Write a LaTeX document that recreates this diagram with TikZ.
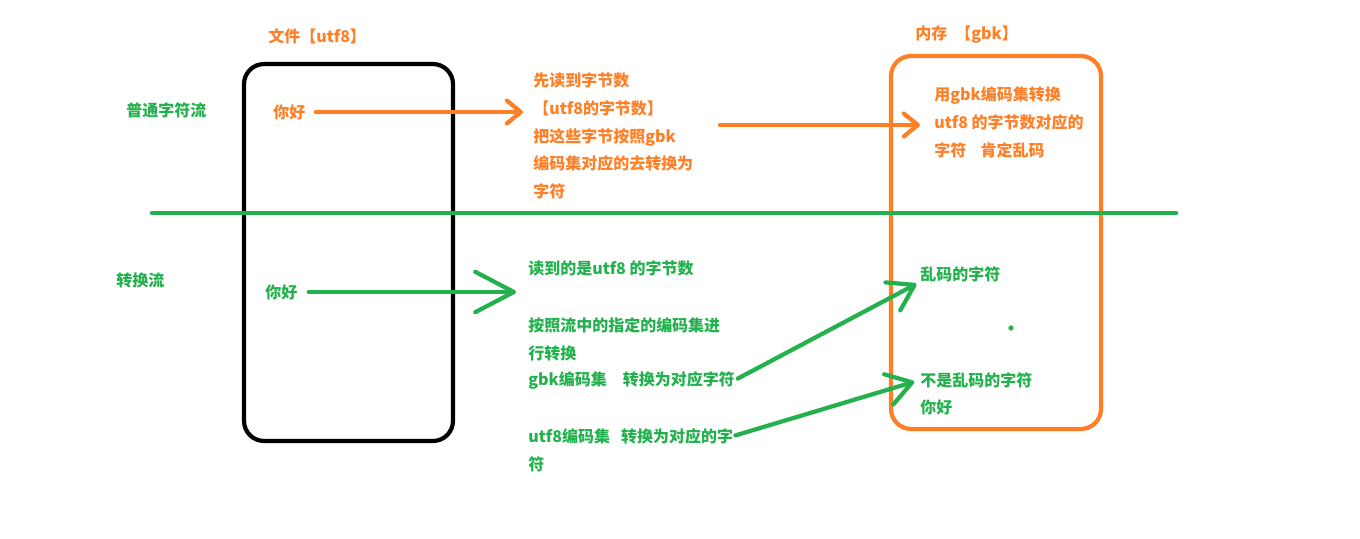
\documentclass[tikz,border=0pt]{standalone}
\usepackage{fontspec}
\setmainfont{Noto Sans CJK SC}
\usetikzlibrary{arrows.meta}
\definecolor{porange}{RGB}{255,127,39}
\definecolor{pgreen}{RGB}{34,177,76}

\begin{document}
\begin{tikzpicture}[
  x=0.02cm, y=-0.02cm,
  font=\fontsize{9.1}{15.9}\selectfont\bfseries,
  line cap=round,
  olbl/.style={text=porange, anchor=west, inner sep=0pt},
  glbl/.style={text=pgreen, anchor=west, inner sep=0pt},
  blk/.style={align=left, anchor=north west, inner sep=0pt},
  frame/.style={line width=2.4pt, rounded corners=0.4cm},
  oarr/.style={draw=porange, line width=2.4pt, -{Straight Barb[length=8pt,width=13pt,round]}},
  garr/.style={draw=pgreen, line width=2.4pt, -{Straight Barb[length=14pt,width=18pt,round]}},
  bigarr/.style={draw=pgreen, line width=2.4pt, -{Straight Barb[length=22pt,width=23pt,round]}},
]
  \useasboundingbox (0,0) rectangle (1360,538);

  % ---------- boxes ----------
  \node[frame, draw=black, minimum width=4.18cm, minimum height=7.54cm] (filebox) at (348.5,252.5) {};
  \node[frame, draw=porange, minimum width=4.2cm, minimum height=7.46cm] (membox) at (996,242.5) {};
  \node[olbl] (filettl) at (268,36) {文件【utf8】};
  \node[olbl] (memttl) at (915,35) {内存\hspace{0.5em}【gbk】};

  % divider
  \draw[pgreen, line width=2.4pt] (152,213) -- (1176,213);

  % ---------- top: ordinary char stream ----------
  \node[glbl] (ordlbl) at (126,110) {普通字符流};
  \node[olbl] (hiA) at (273,112) {你好};
  \node[olbl, blk] (readA) at (533,72)
    {先读到字节数\\【utf8的字节数】\\把这些字节按照gbk\\编码集对应的去转换为\\字符};
  \node[olbl, blk] (memtxt) at (934,86)
    {用gbk编码集转换\\utf8 的字节数对应的\\字符\hspace{0.9em}肯定乱码};
  \coordinate (ostart) at (720,125);

  \draw[oarr, shorten <=10*0.02cm, shorten >=10*0.02cm] (hiA.east) -- (hiA.east -| readA.west);
  \draw[oarr, shorten >=14*0.02cm] (ostart) -- (ostart -| memtxt.west);

  % ---------- bottom: converting stream ----------
  \node[glbl] (convlbl) at (116,280) {转换流};
  \node[glbl] (hiB) at (265,292) {你好};
  \node[glbl] (readB) at (528,268) {读到的是utf8 的字节数};
  \node[glbl, blk] (rule) at (528,317) {按照流中的指定的编码集进\\行转换};
  \node[glbl] (gbkline) at (528,380) {gbk编码集\hspace{1em}转换为对应字符};
  \node[glbl] (utfline) at (528,436) {utf8编码集\hspace{0.7em}转换为对应的字};
  \node[glbl] (utfrest) at (528,464) {符};

  \node[glbl] (garb) at (920,274) {乱码的字符};
  \node[glbl] (notgarb) at (920,380) {不是乱码的字符};
  \node[glbl] (hiC) at (920,407) {你好};
  \fill[pgreen] (1011,328) circle (1.5pt);

  \draw[bigarr, shorten <=11*0.02cm, shorten >=12*0.02cm] (hiB.east) -- (hiB.east -| readB.west);
  \draw[garr, shorten <=3*0.02cm, shorten >=4*0.02cm] (gbkline.east) -- (garb.south west);
  \draw[garr, shorten <=2*0.02cm, shorten >=6*0.02cm] (utfline.east) -- (notgarb.west);
\end{tikzpicture}
\end{document}
